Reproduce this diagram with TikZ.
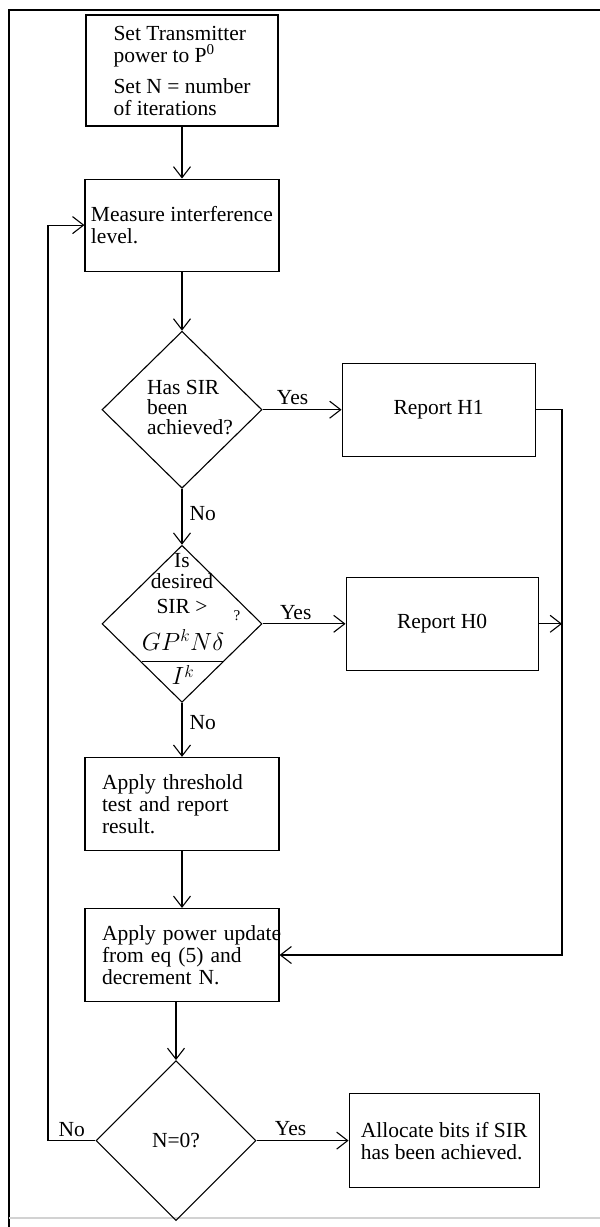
\documentclass[tikz,border=0pt]{standalone}
\usepackage{fontspec}
\setmainfont{Liberation Serif}
\usetikzlibrary{arrows.meta,positioning,shapes.geometric}
\newcommand\chartfont{\fontsize{21.5pt}{22pt}\selectfont}
\hyphenpenalty=10000
\exhyphenpenalty=10000
\hbadness=10000
\hfuzz=40pt

\begin{document}
\begin{tikzpicture}[x=1pt, y=-1pt, line width=1.1pt,
  proc/.style={draw, align=left, minimum width=194pt, minimum height=93pt, font=\chartfont},
  procl/.style={proc, text width=160pt, inner xsep=17pt},
  decide/.style={draw, diamond, inner sep=0pt, minimum width=160pt, minimum height=157pt},
  lbl/.style={font=\chartfont, inner sep=1pt},
  flow/.style={-{Straight Barb[length=11pt, width=17pt]}}
]
\useasboundingbox (0,0) rectangle (600,1227);
% frame of the figure
\draw (600,10) -- (9,10) -- (9,1227);
\draw[gray!35] (9,1218) -- (600,1218);

\node[proc, minimum width=192pt, minimum height=111pt] (init) at (182,70.5)
  {Set Transmitter\\power to P\textsuperscript{0}\\[9pt]Set N = number\\of iterations};
\node[proc, minimum height=92pt, below=52pt of init] (measure) {Measure interference\\level.};
\node[decide, below=59pt of measure] (d1) {};
\node[decide, below=56pt of d1] (d2) {};
\node[procl, below=54pt of d2] (thresh) {Apply~threshold\\test~and~report\\result.};
\node[procl, below=57pt of thresh] (power) {Apply~power~update\\from~eq~(5)~and\\decrement~N.};
\node[decide, minimum height=160pt, below=58pt of power, xshift=-6pt] (d3) {};

\node[proc, minimum width=193pt, align=center, right=79pt of d1] (h1) {Report H1};
\node[proc, minimum width=192pt, align=center, right=83pt of d2] (h0) {Report H0};
\node[proc, minimum width=190pt, minimum height=94pt, right=92pt of d3] (alloc)
  {Allocate bits if SIR\\has been achieved.};

% texts inside the diamonds
\node[lbl, align=left, font=\fontsize{21.5pt}{20pt}\selectfont] (d1txt) at (190,408)
  {Has SIR\\been\\achieved?};
\node[lbl, align=center] (d2txt) at (182,584) {Is\\[-1pt]desired\\[3pt]SIR >};
\node[lbl, font=\fontsize{15pt}{15pt}\selectfont] (d2q) at (237,616) {?};
\node[lbl, font=\fontsize{24pt}{24pt}\selectfont] (d2frac) at (183,657)
  {$\displaystyle\frac{GP^{k}N\delta}{I^{k}}$};
\node[lbl] (d3txt) at (d3) {N=0?};

\coordinate (railx) at (562,0);
\coordinate (loopx) at (48,0);

\draw[flow] (init) -- (measure);
\draw[flow] (measure) -- (d1);
\draw[flow] (d1.east) -- node[lbl, above=3pt, pos=.38] (yes1) {Yes} (h1.west);
\draw[flow] (d1.south) -- node[lbl, right=6pt, pos=.44] (no1) {No} (d2.north);
\draw[flow] (d2.east) -- node[lbl, above=3pt, pos=.4] (yes2) {Yes} (h0.west);
\draw[flow] (d2.south) -- node[lbl, right=6pt, pos=.36] (no2) {No} (thresh.north);
\draw[flow] (thresh) -- (power);
\draw[flow] (d3.north |- power.south) -- (d3.north);
\draw[flow] (d3.east) -- node[lbl, above=3pt, pos=.37] (yes3) {Yes} (alloc.west);
\draw[flow] (d3.west) -- node[lbl, above=2pt, pos=.5] (no3) {No} (d3.west -| loopx) |- (measure.west);
\draw[flow] (h1.east) -- (h1.east -| railx) |- (power.east);
\draw[flow] (h0.east) -- (h0.east -| railx);
\end{tikzpicture}
\end{document}
